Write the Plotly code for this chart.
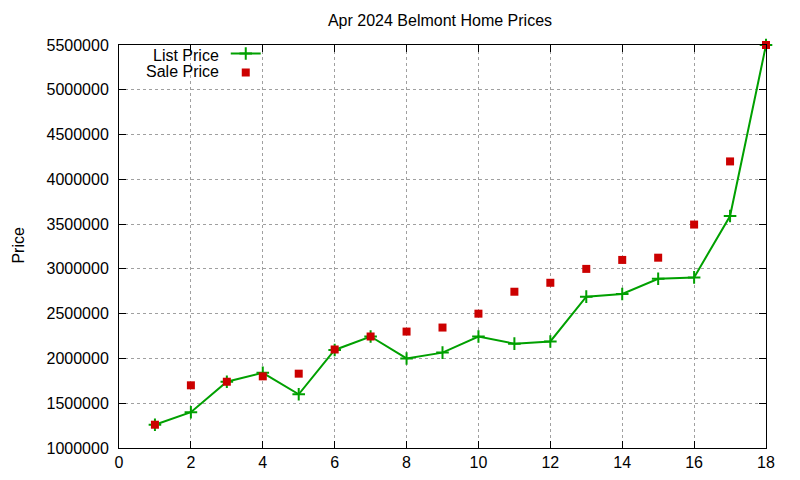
import plotly.graph_objects as go

# home index (sorted by list price)
homes = list(range(1, 19))

list_price = [1260000, 1400000, 1740000, 1840000, 1600000, 2095000, 2245000, 2000000, 2065000,
              2245000, 2165000, 2190000, 2690000, 2720000, 2890000, 2905000, 3590000, 5500000]

sale_price = [1260000, 1700000, 1740000, 1800000, 1830000, 2100000, 2245000, 2300000, 2345000,
              2500000, 2745000, 2845000, 3000000, 3100000, 3125000, 3495000, 4200000, 5500000]

x_ticks = list(range(0, 19, 2))
y_ticks = list(range(1000000, 5500001, 500000))

FONT = "Liberation Sans, Arial, sans-serif"

fig = go.Figure()

fig.add_trace(go.Scatter(
    x=homes, y=list_price, mode="lines+markers", name="",
    line=dict(color="#00a000", width=2),
    marker=dict(symbol="cross-thin", size=9, line=dict(color="#00a000", width=2)),
    cliponaxis=False,
))
fig.add_trace(go.Scatter(
    x=homes, y=sale_price, mode="markers", name="",
    marker=dict(symbol="square", size=8, color="#cc0000"),
    cliponaxis=False,
))

axis_common = dict(
    showline=True, linecolor="black", linewidth=1, mirror="allticks",
    ticks="inside", ticklen=7, tickcolor="black",
    showgrid=True, gridcolor="#a0a0a0", griddash="dot", gridwidth=1,
    zeroline=False, tickfont=dict(family=FONT, size=16, color="black"),
)

fig.update_xaxes(range=[0, 18], tickvals=x_ticks, **axis_common)
fig.update_yaxes(range=[1000000, 5500000], tickvals=y_ticks,
                 tickformat="d", ticklabelstandoff=6, **axis_common)

# gnuplot-style key: text on the left, sample on the right
fig.add_annotation(xref="paper", yref="paper", x=0.157, y=0.975, xanchor="right", yanchor="middle",
                   text="List Price", showarrow=False, font=dict(family=FONT, size=16, color="black"))
fig.add_annotation(xref="paper", yref="paper", x=0.157, y=0.935, xanchor="right", yanchor="middle",
                   text="Sale Price", showarrow=False, font=dict(family=FONT, size=16, color="black"))

fig.add_annotation(xref="paper", yref="paper", x=-0.155, y=0.504, xanchor="center", yanchor="middle",
                   textangle=-90, text="Price", showarrow=False,
                   font=dict(family=FONT, size=16, color="black"))

fig.update_layout(
    width=800, height=480,
    margin=dict(l=111, r=42, t=37, b=40),
    paper_bgcolor="white", plot_bgcolor="white",
    title=dict(text="Apr 2024 Belmont Home Prices", x=0.54, xanchor="center", y=0.975, yanchor="middle",
               font=dict(family=FONT, size=16, color="black")),
    showlegend=True,
    legend=dict(x=0.165, y=1.015, xanchor="left", yanchor="top", bgcolor="rgba(0,0,0,0)",
                font=dict(family=FONT, size=8), tracegroupgap=0, itemwidth=30),
    hovermode=False,
)

fig.write_html("out.html")
